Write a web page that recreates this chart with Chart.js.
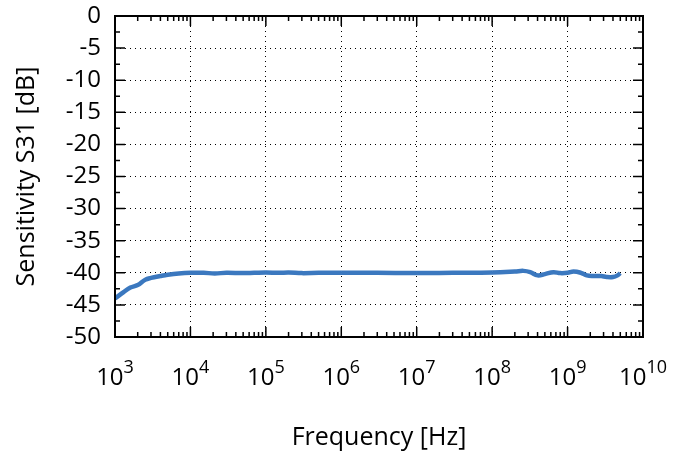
<!DOCTYPE html>
<html>
<head>
<meta charset="utf-8">
<script src="https://cdn.jsdelivr.net/npm/chart.js@4/dist/chart.umd.min.js"></script>
<style>
  body { margin: 0; background: #fff; }
  canvas { display: block; }
</style>
</head>
<body>
<canvas id="s31Chart" width="686" height="452"></canvas>
<script>
// frequency [Hz] and S31 sensitivity [dB]
const freqs = [1e3, 1.3e3, 1.6e3, 2e3, 2.5e3, 3e3, 4e3, 5e3, 7e3, 1e4, 1.5e4, 2.1e4, 3e4, 5e4, 7e4,
    1e5, 1.5e5, 2e5, 3e5, 5e5, 1e6, 3e6, 1e7, 3e7, 1e8, 2e8, 2.6e8, 3.2e8, 4e8, 5e8, 6.5e8, 8e8,
    1e9, 1.2e9, 1.5e9, 1.8e9, 2.2e9, 2.8e9, 3.3e9, 4e9, 4.6e9, 5e9];
const s31 = [-44.0, -43.0, -42.3, -41.9, -41.1, -40.8, -40.5, -40.3, -40.1, -40.0, -40.0, -40.1, -40.0, -40.05, -40.0,
    -39.95, -40.0, -39.95, -40.05, -40.0, -40.0, -40.0, -40.05, -40.0, -39.95, -39.8, -39.7, -39.9, -40.4, -40.2, -39.9, -40.05,
    -40.0, -39.8, -40.0, -40.4, -40.5, -40.5, -40.65, -40.65, -40.4, -40.05];

const decades = [3, 4, 5, 6, 7, 8, 9, 10];
const yMin = -50, yMax = 0, yStep = 5;

const fontFamily = '"Open Sans", "Noto Sans", sans-serif';

// inward ticks, frame and 10^n labels (gnuplot look)
const framePlugin = {
    id: 'frame',
    afterDraw(chart) {
        const { ctx, chartArea: a } = chart;
        const xs = chart.scales.x, ys = chart.scales.y;
        ctx.save();
        ctx.strokeStyle = '#000';
        ctx.lineWidth = 1.5;
        ctx.beginPath();
        decades.forEach((d, i) => {
            const px = xs.getPixelForValue(Math.pow(10, d));
            ctx.moveTo(px, a.bottom); ctx.lineTo(px, a.bottom - 10);
            ctx.moveTo(px, a.top); ctx.lineTo(px, a.top + 10);
            if (i === decades.length - 1) return;
            for (let m = 2; m <= 9; m++) {
                const p = xs.getPixelForValue(m * Math.pow(10, d));
                ctx.moveTo(p, a.bottom); ctx.lineTo(p, a.bottom - 5);
                ctx.moveTo(p, a.top); ctx.lineTo(p, a.top + 5);
            }
        });
        for (let v = yMin; v <= yMax; v += yStep / 2) {
            const py = ys.getPixelForValue(v);
            const len = (v % yStep === 0) ? 10 : 5;
            ctx.moveTo(a.left, py); ctx.lineTo(a.left + len, py);
            ctx.moveTo(a.right, py); ctx.lineTo(a.right - len, py);
        }
        ctx.stroke();

        ctx.lineWidth = 2;
        ctx.strokeRect(a.left, a.top, a.right - a.left, a.bottom - a.top);

        ctx.fillStyle = '#000';
        ctx.textBaseline = 'alphabetic';
        ctx.textAlign = 'left';
        decades.forEach(d => {
            const px = xs.getPixelForValue(Math.pow(10, d));
            ctx.font = '24px ' + fontFamily;
            const wb = ctx.measureText('10').width;
            ctx.font = '18px ' + fontFamily;
            const we = ctx.measureText(String(d)).width;
            const x0 = px - (wb + we) / 2;
            ctx.font = '24px ' + fontFamily;
            ctx.fillText('10', x0, a.bottom + 48);
            ctx.font = '18px ' + fontFamily;
            ctx.fillText(String(d), x0 + wb, a.bottom + 36);
        });
        ctx.restore();
    }
};

new Chart(document.getElementById('s31Chart'), {
    type: 'line',
    data: {
        labels: freqs,
        datasets: [{
            data: freqs.map((f, i) => ({ x: f, y: s31[i] })),
            borderColor: '#3b78bf',
            borderWidth: 4.5,
            pointRadius: 0,
            tension: 0.4,
            fill: false
        }]
    },
    options: {
        responsive: false,
        animation: false,
        devicePixelRatio: 1,
        layout: { padding: { left: 0, right: 43, top: 16, bottom: 0 } },
        plugins: { legend: { display: false }, tooltip: { enabled: false } },
        scales: {
            x: {
                type: 'logarithmic',
                min: 1e3,
                max: 1e10,
                afterBuildTicks: s => { s.ticks = decades.map(d => ({ value: Math.pow(10, d) })); },
                afterFit: s => { s.height = 115; s.paddingLeft = 0; s.paddingRight = 0; },
                ticks: { display: false },
                grid: { color: '#000', lineWidth: 1, drawTicks: false },
                border: { display: false, dash: [1, 4] },
                title: {
                    display: true,
                    text: 'Frequency [Hz]',
                    color: '#000',
                    font: { family: fontFamily, size: 25 },
                    padding: { top: 0, bottom: -1 }
                }
            },
            y: {
                min: yMin,
                max: yMax,
                afterFit: s => { s.width = 115; s.paddingTop = 0; s.paddingBottom = 0; },
                ticks: {
                    stepSize: yStep,
                    color: '#000',
                    padding: 14,
                    font: { family: fontFamily, size: 24 }
                },
                grid: { color: '#000', lineWidth: 1, drawTicks: false },
                border: { display: false, dash: [1, 4] },
                title: {
                    display: true,
                    text: 'Sensitivity S31 [dB]',
                    color: '#000',
                    font: { family: fontFamily, size: 25 },
                    padding: { top: 12, bottom: 0 }
                }
            }
        }
    },
    plugins: [framePlugin]
});
</script>
</body>
</html>
